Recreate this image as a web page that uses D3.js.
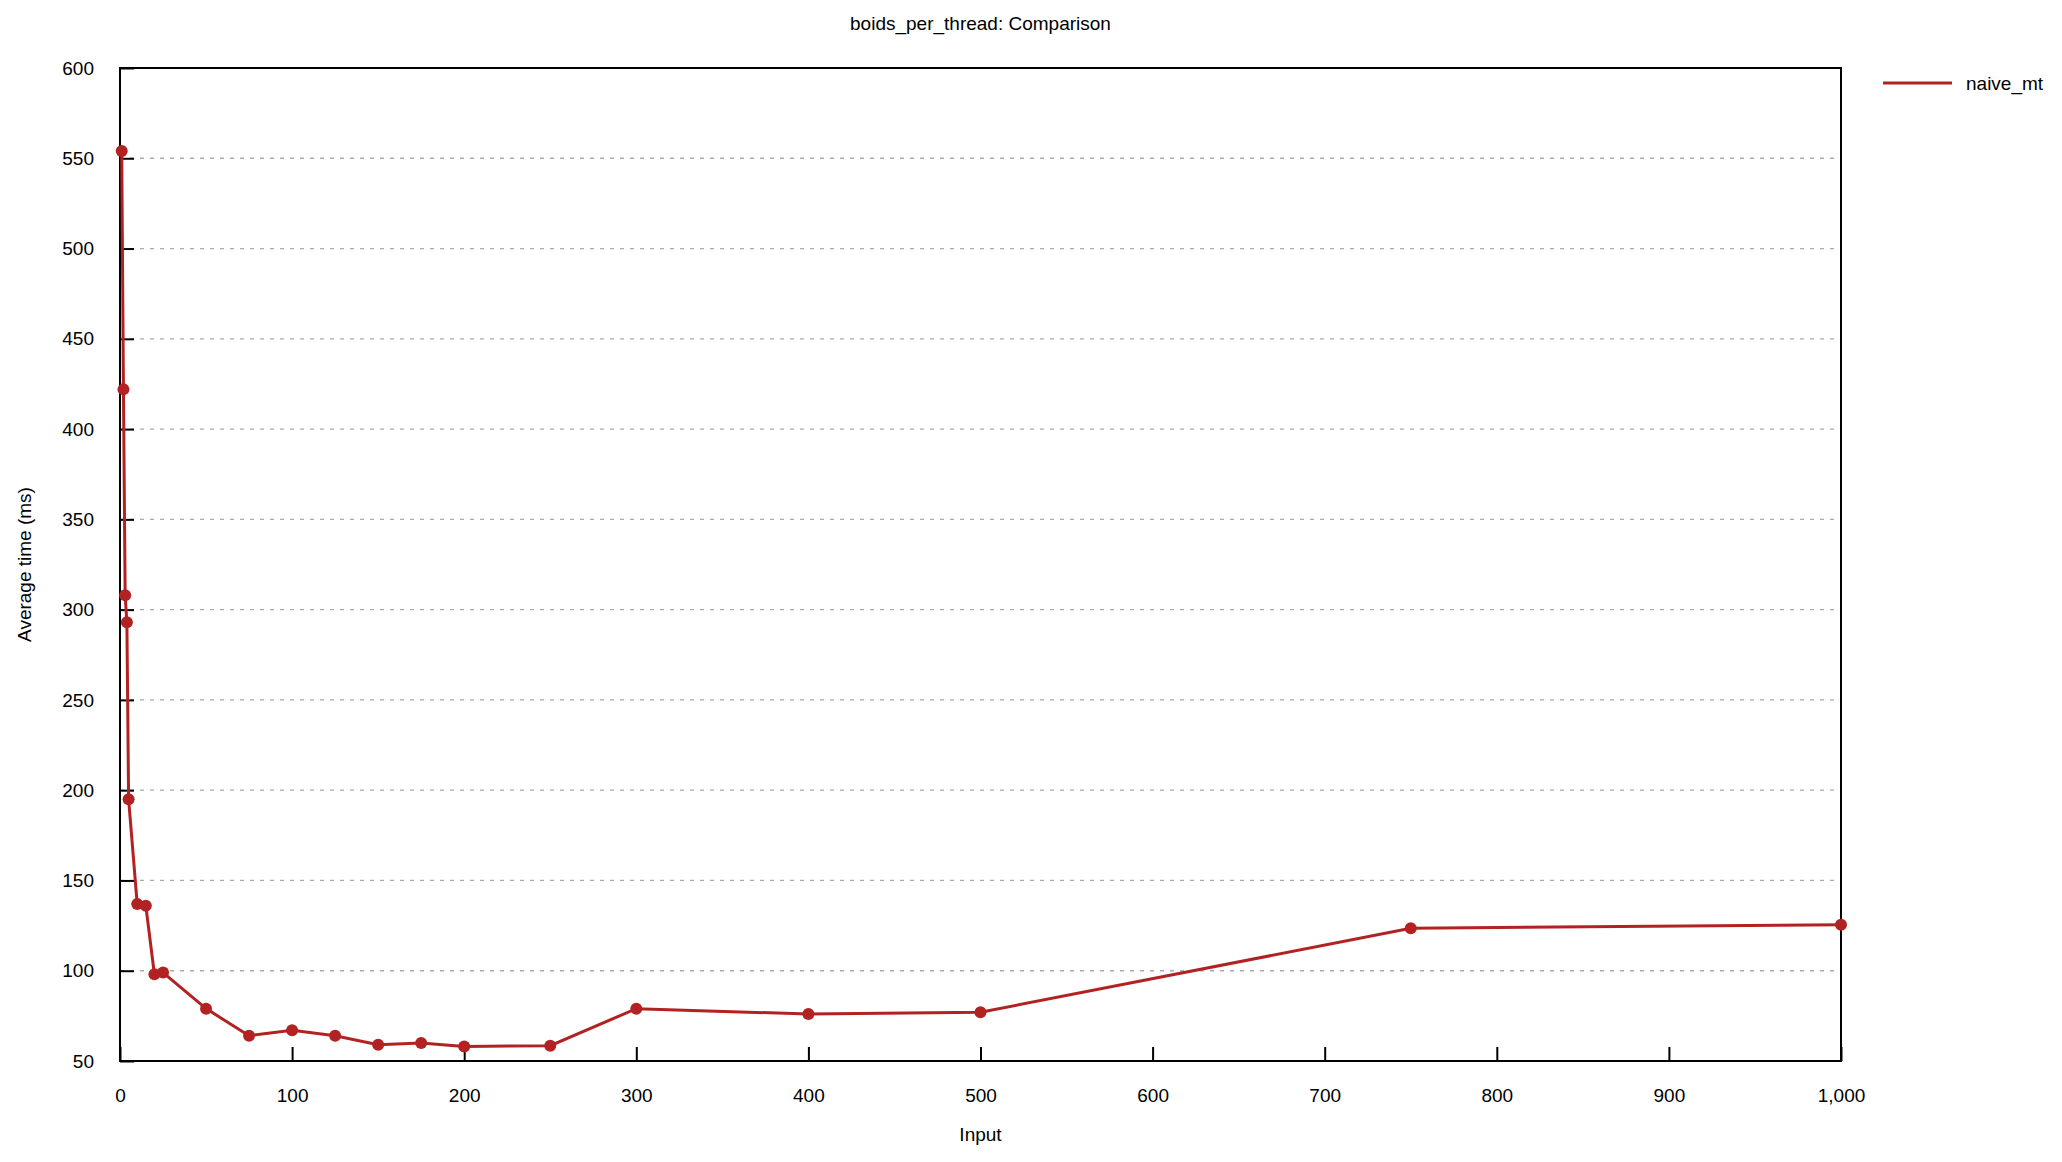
<!DOCTYPE html>
<html><head><meta charset="utf-8">
<script src="https://cdn.jsdelivr.net/npm/d3@7"></script>
<style>body{margin:0;background:#fff}text{font-family:"Liberation Sans",Arial,sans-serif;fill:#000}</style>
</head><body><svg id="c" width="2062" height="1162"></svg>
<script>
const inputs=[1,2,3,4,5,10,15,20,25,50,75,100,125,150,175,200,250,300,400,500,750,1000];
const naive_mt=[554,422,308,293,195,137,136,98,99,79,64,67,64,59,60,58,58.5,79,76,77,123.5,125.5];
const xTicks=[0,100,200,300,400,500,600,700,800,900,1000];
const yTicks=[50,100,150,200,250,300,350,400,450,500,550,600];
const svg=d3.select("#c");
const L=120,R=1841,T=68,B=1061;
const x=d3.scaleLinear().domain([0,1000]).range([L,R]);
const y=d3.scaleLinear().domain([50,600]).range([B,T]);
const fs=19;
// grid
svg.append("g").selectAll("line").data(yTicks.filter(v=>v>50&&v<600)).join("line")
 .attr("x1",L).attr("x2",R).attr("y1",d=>y(d)).attr("y2",d=>y(d))
 .attr("stroke","#aaa").attr("stroke-width",1.3).attr("stroke-dasharray","4,6");
// ticks
const ya=svg.append("g").attr("transform",`translate(${L},0)`).call(d3.axisLeft(y).tickValues(yTicks).tickSize(-14).tickPadding(26));
const xa=svg.append("g").attr("transform",`translate(0,${B})`).call(d3.axisBottom(x).tickValues(xTicks).tickSize(-14).tickPadding(28));
[ya,xa].forEach(a=>{a.select(".domain").remove();a.selectAll("line").attr("stroke","#000").attr("stroke-width",2);a.selectAll("text").attr("font-size",fs).attr("font-family","Liberation Sans, Arial, sans-serif");});
svg.append("rect").attr("x",L).attr("y",T).attr("width",R-L).attr("height",B-T).attr("fill","none").attr("stroke","#000").attr("stroke-width",2);
const pts=inputs.map((v,i)=>[v,naive_mt[i]]);
svg.append("path").datum(pts).attr("d",d3.line().x(d=>x(d[0])).y(d=>y(d[1]))).attr("fill","none").attr("stroke","#b22222").attr("stroke-width",3);
svg.append("g").selectAll("circle").data(pts).join("circle").attr("cx",d=>x(d[0])).attr("cy",d=>y(d[1])).attr("r",6).attr("fill","#b22222");
svg.append("text").attr("x",(L+R)/2).attr("y",30).attr("text-anchor","middle").attr("font-size",fs).text("boids_per_thread: Comparison");
svg.append("text").attr("x",(L+R)/2).attr("y",1141).attr("text-anchor","middle").attr("font-size",fs).text("Input");
svg.append("text").attr("transform",`translate(31,${(T+B)/2}) rotate(-90)`).attr("text-anchor","middle").attr("font-size",fs).text("Average time (ms)");
svg.append("line").attr("x1",1883).attr("x2",1952).attr("y1",83).attr("y2",83).attr("stroke","#b22222").attr("stroke-width",3);
svg.append("text").attr("x",1966).attr("y",90).attr("font-size",fs).text("naive_mt");
</script></body></html>
